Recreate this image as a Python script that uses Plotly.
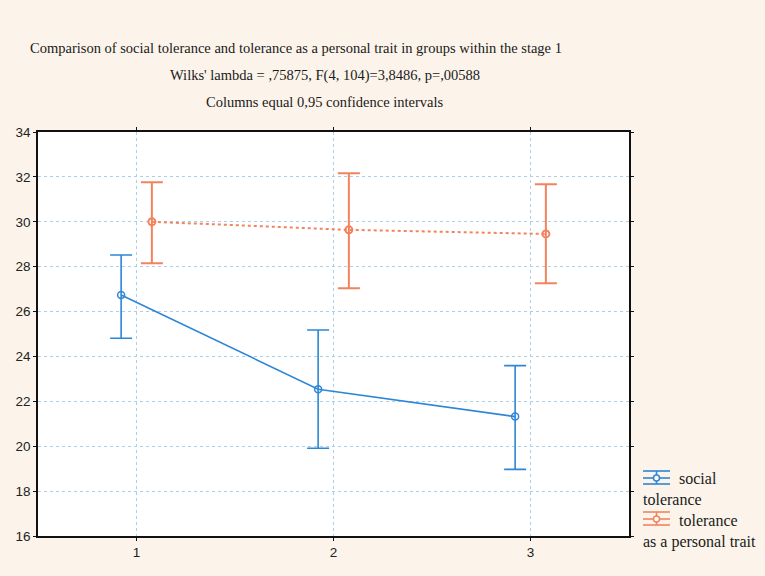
import plotly.graph_objects as go

# ---- data ----
groups = [1, 2, 3]
social_mean = [26.74, 22.54, 21.32]
social_upper = [28.52, 25.18, 23.59]
social_lower = [24.81, 19.91, 18.97]
trait_mean = [30.0, 29.64, 29.46]
trait_upper = [31.76, 32.16, 31.67]
trait_lower = [28.15, 27.04, 27.26]
y_ticks = [16, 18, 20, 22, 24, 26, 28, 30, 32, 34]
title_lines = [
    "Comparison of social tolerance and tolerance as a personal trait in groups within the stage 1",
    "Wilks' lambda = ,75875, F(4, 104)=3,8486, p=,00588",
    "Columns equal 0,95 confidence intervals",
]
legend_names = [("social", "tolerance"), ("tolerance", "as a personal trait")]

# ---- styling ----
W, H = 765, 576
ML, MR, MT, MB = 38, 136, 132, 40
PW, PH = W - ML - MR, H - MT - MB
BLUE = "#2d86d6"
ORANGE = "#f2835e"
BG = "#fcf4ea"
GRID = "#a9cfe9"
OFF = 0.078


def px(x):
    return (x - ML) / PW


def py(y):
    return (H - MB - y) / PH


fig = go.Figure()

fig.add_trace(go.Scatter(
    x=[g - OFF for g in groups], y=social_mean, mode="lines+markers",
    line=dict(color=BLUE, width=1.6),
    marker=dict(symbol="circle-open", size=7, color=BLUE, line=dict(width=1.5)),
    error_y=dict(type="data", symmetric=False,
                 array=[u - m for u, m in zip(social_upper, social_mean)],
                 arrayminus=[m - l for m, l in zip(social_mean, social_lower)],
                 color=BLUE, thickness=1.6, width=11),
    showlegend=False,
))
fig.add_trace(go.Scatter(
    x=[g + OFF for g in groups], y=trait_mean, mode="lines+markers",
    line=dict(color=ORANGE, width=2, dash="dot"),
    marker=dict(symbol="circle-open", size=7, color=ORANGE, line=dict(width=2)),
    error_y=dict(type="data", symmetric=False,
                 array=[u - m for u, m in zip(trait_upper, trait_mean)],
                 arrayminus=[m - l for m, l in zip(trait_mean, trait_lower)],
                 color=ORANGE, thickness=2, width=11),
    showlegend=False,
))

annotations = []
title_pos = [(296, 48), (325, 75), (325, 102)]
for txt, (tx, ty) in zip(title_lines, title_pos):
    annotations.append(dict(
        text=txt, x=px(tx), y=py(ty), xref="paper", yref="paper",
        xanchor="center", yanchor="middle", showarrow=False,
        font=dict(family="Liberation Serif", size=14.5, color="#1a1a1a"),
    ))

# manual legend
shapes = []
leg_items = [(BLUE, 478, legend_names[0], 489), (ORANGE, 519, legend_names[1], 531)]
for col, cy, (l1, l2), tmid in leg_items:
    x0, x1, xc = 643, 670, 656.5
    for dy in (-7, 0, 6):
        shapes.append(dict(type="line", xref="paper", yref="paper",
                           x0=px(x0), x1=px(x1), y0=py(cy + dy), y1=py(cy + dy),
                           line=dict(color=col, width=1.6)))
    shapes.append(dict(type="line", xref="paper", yref="paper",
                       x0=px(xc), x1=px(xc), y0=py(cy - 7), y1=py(cy + 6),
                       line=dict(color=col, width=1.6)))
    shapes.append(dict(type="circle", xref="paper", yref="paper",
                       x0=px(xc - 3), x1=px(xc + 3), y0=py(cy - 3), y1=py(cy + 3),
                       line=dict(color=col, width=1.5), fillcolor="white"))
    annotations.append(dict(text="&nbsp;" * 9 + l1 + "<br>" + l2,
                            x=px(641), y=py(tmid), xref="paper", yref="paper",
                            xanchor="left", yanchor="middle", align="left", showarrow=False,
                            font=dict(family="Liberation Serif", size=16, color="#1a1a1a")))

fig.update_layout(
    width=W, height=H,
    margin=dict(l=ML, r=MR, t=MT, b=MB, pad=0),
    paper_bgcolor=BG, plot_bgcolor="white",
    annotations=annotations, shapes=shapes,
    xaxis=dict(range=[0.5, 3.5], tickvals=groups, ticktext=[str(g) for g in groups],
               showgrid=True, gridcolor=GRID, griddash="dot", gridwidth=1,
               showline=True, linecolor="#111", linewidth=1.5, mirror="ticks",
               ticks="outside", ticklen=3, tickcolor="#111", zeroline=False,
               tickfont=dict(family="Liberation Sans", size=13.5, color="#222")),
    yaxis=dict(range=[16, 34], tickvals=y_ticks,
               showgrid=True, gridcolor=GRID, griddash="dot", gridwidth=1,
               showline=True, linecolor="#111", linewidth=1.5, mirror="ticks",
               ticks="outside", ticklen=3, tickcolor="#111", zeroline=False,
               tickfont=dict(family="Liberation Sans", size=13.5, color="#222")),
)

fig.write_html("out.html", config={"displayModeBar": False},
               post_script="document.body.style.margin='0';document.body.style.overflow='hidden';")
